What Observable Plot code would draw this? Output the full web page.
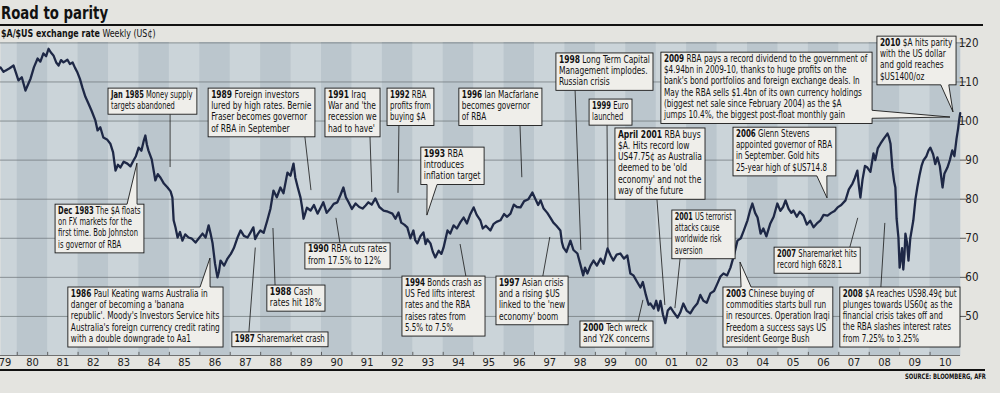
<!DOCTYPE html>
<html><head><meta charset="utf-8">
<script src="https://cdn.jsdelivr.net/npm/d3@7"></script>
<script src="https://cdn.jsdelivr.net/npm/@observablehq/plot@0.6"></script>
<style>
html,body{margin:0;padding:0;background:#e4e4e0;}
body{width:1000px;height:393px;position:relative;overflow:hidden;font-family:"Liberation Sans Narrow","DejaVu Sans Condensed",sans-serif;color:#111;}
#title{position:absolute;left:1px;top:2px;font-size:18px;font-weight:bold;line-height:21px;white-space:nowrap;transform:scaleX(0.82);transform-origin:0 0;}
#rule1{position:absolute;left:0;top:24px;width:983px;height:2px;background:#111;}
#sub{position:absolute;left:1px;top:27px;font-size:11px;line-height:13px;white-space:nowrap;transform:scaleX(0.8);transform-origin:0 0;}
#sub b{font-weight:bold;}
#chart{position:absolute;left:0;top:30px;}
#chart svg{overflow:visible;}
#rule2{position:absolute;left:0;top:369px;width:985px;height:1.5px;background:#111;}
#source{position:absolute;left:905px;top:372px;font-size:7.5px;font-weight:bold;white-space:nowrap;transform:scaleX(0.78);transform-origin:0 0;}
</style></head>
<body>
<div id="title">Road to parity</div>
<div id="rule1"></div>
<div id="sub"><b>$A/$US exchange rate</b> Weekly (US¢)</div>
<div id="chart"></div>
<div id="rule2"></div>
<div id="source">SOURCE: BLOOMBERG, AFR</div>
<script>
const FONT = '"Liberation Sans Narrow","DejaVu Sans Condensed",sans-serif';

const dates = [
1979.45,1979.55,1979.61,1979.75,1979.88,1980.04,1980.15,1980.27,1980.44,1980.55,1980.67,1980.76,1980.86,1980.95,
1981.03,1981.10,1981.19,1981.28,1981.36,1981.44,1981.52,1981.65,1981.73,1981.82,1981.90,1981.98,
1982.06,1982.14,1982.24,1982.34,1982.45,1982.57,1982.64,1982.73,1982.83,1982.95,
1983.06,1983.15,1983.23,1983.31,1983.39,1983.50,1983.62,1983.72,1983.82,1983.90,1983.99,
1984.08,1984.16,1984.21,1984.26,1984.31,1984.42,1984.54,1984.62,1984.71,1984.82,1984.94,
1985.04,1985.10,1985.14,1985.20,1985.27,1985.35,1985.43,1985.52,1985.63,1985.74,1985.86,1985.97,
1986.09,1986.19,1986.29,1986.36,1986.42,1986.50,1986.58,1986.63,1986.68,1986.80,1986.91,
1987.02,1987.12,1987.23,1987.34,1987.45,1987.57,1987.66,1987.76,1987.82,1987.90,1987.99,
1988.10,1988.22,1988.32,1988.42,1988.53,1988.65,1988.75,1988.88,1988.98,
1989.08,1989.14,1989.22,1989.31,1989.36,1989.41,1989.52,1989.64,1989.75,1989.87,1989.97,
1990.06,1990.17,1990.29,1990.40,1990.52,1990.62,1990.72,1990.80,1990.89,
1991.00,1991.12,1991.24,1991.35,1991.45,1991.54,1991.65,1991.77,1991.90,
1992.04,1992.18,1992.33,1992.43,1992.53,1992.62,1992.72,1992.82,1992.92,
1993.02,1993.08,1993.15,1993.25,1993.35,1993.42,1993.48,1993.58,1993.66,1993.74,1993.85,1993.94,
1994.01,1994.14,1994.23,1994.34,1994.45,1994.57,1994.67,1994.78,1994.88,
1995.00,1995.10,1995.22,1995.30,1995.40,1995.55,1995.65,1995.75,1995.88,
1996.00,1996.10,1996.21,1996.32,1996.42,1996.54,1996.66,1996.80,1996.93,
1997.02,1997.12,1997.20,1997.30,1997.42,1997.52,1997.62,1997.72,1997.85,1997.90,1997.95,
1998.05,1998.18,1998.28,1998.41,1998.50,1998.60,1998.66,1998.74,1998.84,1998.94,
1999.05,1999.17,1999.27,1999.40,1999.50,1999.59,1999.70,1999.82,1999.94,
2000.05,2000.15,2000.25,2000.36,2000.48,2000.56,2000.66,2000.75,2000.81,2000.92,
2001.00,2001.07,2001.14,2001.22,2001.30,2001.38,2001.47,2001.58,2001.70,2001.79,2001.89,
2002.00,2002.12,2002.24,2002.35,2002.45,2002.55,2002.66,2002.78,2002.90,
2003.01,2003.11,2003.21,2003.33,2003.44,2003.55,2003.67,2003.78,2003.88,
2004.00,2004.08,2004.16,2004.25,2004.33,2004.43,2004.52,2004.62,2004.75,2004.86,2004.98,
2005.08,2005.17,2005.25,2005.35,2005.44,2005.51,2005.62,2005.72,2005.84,2005.95,
2006.06,2006.17,2006.28,2006.40,2006.50,2006.63,2006.75,2006.86,2006.96,
2007.08,2007.22,2007.33,2007.45,2007.53,2007.61,2007.66,2007.71,2007.78,2007.86,2007.94,
2008.04,2008.14,2008.20,2008.28,2008.37,2008.48,2008.60,2008.65,2008.70,2008.76,2008.82,2008.86,2008.90,2008.96,
2009.00,2009.03,2009.08,2009.12,2009.16,2009.19,2009.24,2009.29,2009.35,2009.45,2009.52,2009.58,2009.65,2009.72,2009.78,2009.88,2009.95,
2010.01,2010.10,2010.17,2010.24,2010.32,2010.41,2010.47,2010.57,2010.65,2010.73,2010.80,2010.87,2010.92,2010.96,2010.99
];
// $A in US cents
const usCents = [
113.7,112.6,112.9,113.5,114.2,110.4,111.2,107.8,110.9,113.8,116.0,115.2,117.3,116.6,
118.5,117.6,116.8,115.0,114.2,115.6,115.0,115.7,114.6,115.0,113.6,112.4,
110.8,108.6,106.2,104.5,102.5,100.1,97.6,98.4,95.8,95.3,
94.2,92.0,87.3,88.8,88.1,89.6,89.1,88.4,89.9,91.0,93.2,
92.4,95.0,96.3,94.0,92.5,90.2,84.8,86.4,85.5,84.0,83.0,
82.0,80.4,74.6,72.8,70.2,71.6,69.4,71.0,70.2,69.9,68.9,70.0,
71.2,70.2,73.3,71.0,68.7,63.5,60.0,61.5,64.3,63.0,64.8,
66.0,67.5,70.0,72.0,70.6,70.2,71.4,72.8,69.8,71.0,72.0,
71.4,74.6,77.5,82.2,80.5,83.0,81.5,86.8,86.0,
89.1,85.5,83.0,80.4,78.0,75.0,77.8,77.1,78.5,76.3,77.8,
79.2,76.5,77.6,78.8,79.2,81.0,83.0,80.5,79.2,
77.5,78.9,78.0,77.6,78.4,79.2,78.6,80.2,78.0,
77.1,76.8,76.3,75.0,76.6,74.0,73.5,72.8,70.0,
72.0,69.5,68.7,70.5,71.5,68.5,69.7,68.7,66.5,65.1,66.8,66.0,
67.6,72.0,71.2,73.3,72.5,74.2,75.3,73.8,76.0,
77.9,76.0,74.6,72.5,73.2,72.0,73.6,74.2,74.6,
76.2,75.5,76.3,78.6,78.0,77.9,79.5,80.0,81.7,
80.2,78.5,79.7,77.6,76.5,75.3,74.0,73.2,72.0,69.0,67.6,
66.5,69.4,67.0,66.1,63.5,60.5,62.5,61.0,63.0,64.3,
63.0,64.8,63.5,67.4,65.6,64.3,65.8,66.1,64.8,
65.6,61.0,60.5,59.0,57.4,58.8,55.5,53.0,53.3,52.0,
54.0,51.5,54.0,50.5,48.3,51.5,52.3,51.0,49.7,51.0,53.3,
51.5,50.8,52.3,53.3,55.5,54.0,53.5,55.9,56.5,
58.4,60.2,61.0,60.5,62.5,65.5,69.4,70.0,72.0,
74.6,77.0,78.9,76.5,75.3,71.2,72.5,70.5,73.8,75.5,78.9,
77.0,78.0,79.7,77.5,76.5,77.1,75.5,76.8,75.8,73.5,
74.5,72.8,73.8,74.6,76.0,75.8,76.5,77.0,77.9,
78.5,79.7,82.5,84.0,85.5,87.3,83.5,80.4,85.0,88.5,88.1,
87.0,91.7,90.0,93.0,94.2,95.5,96.8,95.8,94.2,88.0,84.5,83.0,75.0,70.2,
62.5,64.3,67.5,62.0,66.0,71.2,69.0,64.3,70.0,74.6,80.0,83.0,86.0,88.5,89.9,91.0,92.5,
93.2,91.5,89.0,90.7,88.5,83.0,86.5,88.1,90.0,92.5,91.0,95.5,98.0,100.5,102.0
];

const yTicks = [50, 60, 70, 80, 90, 100, 110, 120];
const years = d3.range(1979, 2011);
const yearLabels = years.map(y => String(y).slice(2));
const shadedYears = years.filter(y => y % 2 === 0);

// Annotation boxes: x1/x2 in years, top in US cents; leaders/pointers in data units
const notes = [
  {x1:1983.00,x2:1985.92,top:108.3,bold:"Jan 1985",lines:["Money supply","targets abandoned"],leader:{at:1985.04,to:[1985.04,88.1]}},
  {x1:1986.29,x2:1989.80,top:108.3,bold:"1989",lines:["Foreign investors","lured by high rates. Bernie","Fraser becomes governor","of RBA in September"],leader:{at:1989.47,to:[1989.67,82.2]}},
  {x1:1990.13,x2:1991.94,top:108.3,bold:"1991",lines:["Iraq","War and 'the","recession we","had to have'"],leader:{at:1991.61,to:[1991.67,81.7]}},
  {x1:1992.17,x2:1993.71,top:108.3,bold:"1992",lines:["RBA","profits from","buying $A"],leader:{at:1992.56,to:[1992.53,81.5]}},
  {x1:1993.28,x2:1995.36,top:93.2,bold:"1993",lines:["RBA","introduces","inflation target"],tri:{side:"bottom",at:1993.65,to:[1993.48,75.8],hw:5}},
  {x1:1994.53,x2:1997.26,top:108.3,bold:"1996",lines:["Ian Macfarlane","becomes governor","of RBA"],leader:{at:1996.54,to:[1996.60,85.5]}},
  {x1:1997.72,x2:2000.91,top:117.3,bold:"1998",lines:["Long Term Capital","Management implodes.","Russian crisis"],leader:{at:1998.35,to:[1998.54,66.9]}},
  {x1:1998.81,x2:2000.22,top:105.5,bold:"1999",lines:["Euro","launched"],leader:{at:1999.40,to:[1999.43,67.4]}},
  {x1:2001.17,x2:2008.11,top:117.5,bold:"2009",lines:["RBA pays a record dividend to the government of","$4.94bn in 2009-10, thanks to huge profits on the","bank's bond portfolios and foreign exchange deals. In","May the RBA sells $1.4bn of its own currency holdings","(biggest net sale since February 2004) as the $A","jumps 10.4%, the biggest post-float monthly gain"],tri:{side:"right",at:101.6,to:[2010.67,100.9],hw:4}},
  {x1:2008.27,x2:2010.87,top:121.6,bold:"2010",lines:["$A hits parity","with the US dollar","and gold reaches","$US1400/oz"],tri:{side:"bottom",at:2010.50,to:[2010.77,102.2],hw:4}},
  {x1:1981.26,x2:1984.18,top:78.6,bold:"Dec 1983",lines:["The $A floats","on FX markets for the","first time. Bob Johnston","is governor of RBA"],tri:{side:"top",at:1983.79,to:[1983.95,89.1],hw:5}},
  {x1:1989.47,x2:1992.27,top:68.7,bold:"1990",lines:["RBA cuts rates","from 17.5% to 12%"],leader:{at:1990.62,to:[1990.49,75.1]}},
  {x1:1988.22,x2:1990.13,top:57.9,bold:"1988",lines:["Cash","rates hit 18%"],leader:{at:1988.49,to:[1988.42,72.5]}},
  {x1:1987.07,x2:1990.23,top:45.9,bold:"1987",lines:["Sharemarket crash"],leader:{at:1987.63,to:[1987.84,67.5]}},
  {x1:1981.68,x2:1986.78,top:57.4,bold:"1986",lines:["Paul Keating warns Australia in","danger of becoming a 'banana","republic'. Moody's Investors Service hits","Australia's foreign currency credit rating","with a double downgrade to Aa1"],tri:{side:"top",at:1986.19,to:[1986.35,64.8],hw:5}},
  {x1:1992.66,x2:1995.39,top:60.2,bold:"1994",lines:["Bonds crash as","US Fed lifts interest","rates and the RBA","raises rates from","5.5% to 7.5%"],leader:{at:1994.76,to:[1994.57,68.4]}},
  {x1:1995.75,x2:1998.12,top:60.2,bold:"1997",lines:["Asian crisis","and a rising $US","linked to the 'new","economy' boom"],leader:{at:1997.29,to:[1997.52,70.2]}},
  {x1:1998.51,x2:2000.91,top:48.7,bold:"2000",lines:["Tech wreck","and Y2K concerns"],leader:{at:2000.42,to:[2000.58,54.1]}},
  {x1:1999.66,x2:2002.62,top:98.1,bold:"April 2001",lines:["RBA buys","$A. Hits record low","US47.75¢ as Australia","deemed to be 'old","economy' and not the","way of the future"],leader:{at:2001.04,to:[2001.30,52.8]}},
  {x1:2001.53,x2:2003.60,top:77.1,bold:"2001",lines:["US terrorist","attacks cause","worldwide risk","aversion"],leader:{at:2001.80,to:[2001.63,52.0]}},
  {x1:2003.54,x2:2006.92,top:98.3,bold:"2006",lines:["Glenn Stevens","appointed governor of RBA","in September. Gold hits","25-year high of $US714.8"],tri:{side:"bottom",at:2006.46,to:[2006.63,80.2],hw:5}},
  {x1:2004.89,x2:2007.72,top:67.6,bold:"2007",lines:["Sharemarket hits","record high 6828.1"],leader:{at:2007.38,to:[2007.64,75.1]}},
  {x1:2003.21,x2:2006.82,top:57.4,bold:"2003",lines:["Chinese buying of","commodities starts bull run","in resources. Operation Iraqi","Freedom a success says US","president George Bush"],tri:{side:"top",at:2003.97,to:[2003.77,63.8],hw:5}},
  {x1:2007.05,x2:2011.0,top:57.4,bold:"2008",lines:["$A reaches US98.49¢ but","plunges towards US60¢ as the","financial crisis takes off and","the RBA slashes interest rates","from 7.25% to 3.25%"],leader:{at:2008.40,to:[2008.53,73.8]}}
];

const LH = 11.3;
const BOX_FILL = "#efeeea";
const boxHeight = n => n.lines.length * LH + 3.5;

function leaderLayer(index, scales) {
  const x = scales.x, y = scales.y;
  const g = d3.create("svg:g").attr("stroke", "#161616").attr("stroke-width", 0.8).attr("fill", "none");
  for (const n of notes) {
    if (!n.leader) continue;
    const top = y(n.top), bottom = top + boxHeight(n);
    const tx = x(n.leader.to[0]), ty = y(n.leader.to[1]);
    const sx = x(n.leader.at);
    const sy = ty > bottom ? bottom : top;
    g.append("line").attr("x1", sx).attr("y1", sy).attr("x2", tx).attr("y2", ty);
  }
  return g.node();
}

function boxLayer(index, scales) {
  const x = scales.x, y = scales.y;
  const g = d3.create("svg:g").attr("font-family", FONT).attr("font-size", 10).attr("text-anchor", "start");
  for (const n of notes) {
    const left = x(n.x1), right = x(n.x2), top = y(n.top), h = boxHeight(n), bottom = top + h;
    const rect = g.append("rect").attr("class", "note-box").attr("x", left).attr("y", top).attr("width", right - left).attr("height", h)
      .attr("fill", BOX_FILL).attr("stroke", "#1a1a1a").attr("stroke-width", 0.9);
    if (n.tri) {
      const t = n.tri, ax = x(t.to[0]), ay = y(t.to[1]), hw = t.hw;
      let pts, fillPts;
      if (t.side === "right") {
        const cy = y(t.at);
        pts = [[right, cy - hw], [ax, ay], [right, cy + hw]];
        fillPts = [[right - 1.5, cy - hw], ...pts, [right - 1.5, cy + hw]];
      } else {
        const cx = x(t.at);
        const by = t.side === "top" ? top : bottom;
        const inner = t.side === "top" ? 1.5 : -1.5;
        pts = [[cx - hw, by], [ax, ay], [cx + hw, by]];
        fillPts = [[cx - hw, by + inner], ...pts, [cx + hw, by + inner]];
      }
      g.append("path").attr("d", "M" + fillPts.join("L") + "Z").attr("fill", BOX_FILL);
      g.append("path").attr("d", "M" + pts.join("L")).attr("fill", "none").attr("stroke", "#1a1a1a").attr("stroke-width", 0.9);
    }
    const text = g.append("text").attr("class", "note-text").attr("fill", "#111").attr("text-anchor", "start")
      .attr("data-left", left).attr("data-w", right - left);
    n.lines.forEach((line, i) => {
      const by = top + 9.6 + i * LH;
      if (i === 0) {
        text.append("tspan").attr("x", left + 3).attr("y", by).attr("font-weight", "bold").text(n.bold);
        text.append("tspan").text(" " + line);
      } else {
        text.append("tspan").attr("x", left + 3).attr("y", by).text(line);
      }
    });
  }
  return g.node();
}

const table = dates.map((d, i) => ({date: d, rate: usCents[i]}));
const labelTable = years.map((y, i) => ({year: y, label: yearLabels[i]}));

const chart = Plot.plot({
  width: 1000,
  height: 340,
  marginLeft: 0,
  marginRight: 40,
  marginTop: 12,
  marginBottom: 15,
  style: {fontFamily: FONT, background: "transparent", color: "#222"},
  x: {type: "linear", domain: [1979.45, 2011.0], axis: null},
  y: {domain: [40, 120.1], axis: null},
  marks: [
    Plot.frame({fill: "#cbd4d9", stroke: null}),
    Plot.rect(shadedYears, {x1: d => d, x2: d => d + 1, y1: 40, y2: 120.1, fill: "#bbc6cd"}),
    Plot.ruleY(yTicks, {stroke: "#6a7175", strokeWidth: 0.7}),
    Plot.ruleY(yTicks, {x1: 2011.0, x2: 2011.2, stroke: "#333", strokeWidth: 0.8}),
    Plot.ruleY([40], {stroke: "#555", strokeWidth: 0.8}),
    Plot.ruleX(years.slice(1), {y1: 40, y2: 40.8, stroke: "#444", strokeWidth: 0.8}),
    leaderLayer,
    Plot.line(table, {x: "date", y: "rate", stroke: "#1e2846", strokeWidth: 2.3, strokeLinejoin: "round"}),
    boxLayer,
    Plot.text(yTicks, {y: d => d, frameAnchor: "right", dx: 18, text: d => String(d), fontSize: 11.5, fill: "#222"}),
    Plot.text(labelTable, {x: d => Math.max(d.year + 0.5, 1979.6), y: 40, dy: 7, text: "label", fontSize: 11, fill: "#222"})
  ]
});
document.getElementById("chart").appendChild(chart);

// Condense each note's text horizontally so its longest line fills its box
const boxes = chart.querySelectorAll("rect.note-box");
chart.querySelectorAll("text.note-text").forEach((t, i) => {
  const w = +t.getAttribute("data-w"), l = +t.getAttribute("data-left") + 3;
  const bw = t.getBBox().width;
  const k = Math.max(0.72, Math.min(0.88, (w - 6) / bw));
  t.setAttribute("transform", `translate(${l},0) scale(${k},1) translate(${-l},0)`);
  const need = bw * k + 6;
  if (need > w) boxes[i].setAttribute("width", need);
});
</script>
</body></html>
